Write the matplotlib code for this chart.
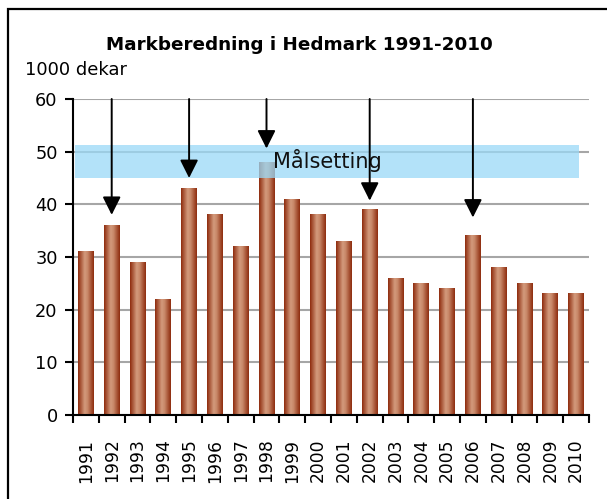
import numpy as np
import matplotlib
matplotlib.use("Agg")
import matplotlib.pyplot as plt
from matplotlib.colors import LinearSegmentedColormap
from matplotlib.patches import Rectangle

years = [str(y) for y in range(1991, 2011)]
values = [31, 36, 29, 22, 43, 38, 32, 48, 41, 38, 33, 39, 26, 25, 24, 34, 28, 25, 23, 23]

arrow_years = ["1992", "1995", "1998", "2002", "2006"]
arrow_ends = [38.0, 45.0, 50.6, 40.7, 37.5]
arrow_start = 60

goal_low = 45
goal_high = 51.3
goal_label = "Målsetting"

fig = plt.figure(figsize=(6.07, 4.99), dpi=100)
ax = fig.add_axes([73 / 607, 84 / 499, 516 / 607, 316 / 499])

# brown cylinder-like gradient for the bars
bar_cmap = LinearSegmentedColormap.from_list(
    "bar", [(0.0, "#8e2c0e"), (0.42, "#d39a7c"), (0.6, "#c9896a"), (1.0, "#8e2c0e")])
grad = np.linspace(0, 1, 64).reshape(1, -1)
w = 0.62
for i, v in enumerate(values):
    ax.imshow(grad, extent=(i - w / 2, i + w / 2, 0, v), aspect="auto",
              cmap=bar_cmap, zorder=2, interpolation="bilinear")

ax.set_xlim(-0.5, len(years) - 0.5)
ax.set_ylim(0, 60)

# target band
ax.axhspan(goal_low, goal_high, xmin=0.004, xmax=0.98, color="#9ad9f7",
           alpha=0.75, lw=0, zorder=3)
ax.text(9.35, 48.3, goal_label, fontsize=15, ha="center", va="center",
        color="#111111", zorder=5)

# arrows
for yr, end in zip(arrow_years, arrow_ends):
    xi = years.index(yr)
    ax.annotate("", xy=(xi, end), xytext=(xi, arrow_start),
                arrowprops=dict(arrowstyle="-|>,head_length=1.0,head_width=0.5",
                                mutation_scale=11, lw=1.4, color="black",
                                shrinkA=0, shrinkB=0),
                zorder=6)

# grid and axes styling
ax.set_yticks(range(0, 61, 10))
ax.yaxis.grid(True, color="#a6a6a6", lw=1.5, zorder=0)
ax.set_axisbelow(True)
for s in ["top", "right"]:
    ax.spines[s].set_visible(False)
ax.spines["left"].set_linewidth(1.5)
ax.spines["bottom"].set_linewidth(1.5)
ax.spines["bottom"].set_zorder(4)

ax.set_xticks(range(len(years)))
ax.set_xticklabels(years, rotation=90, fontsize=12.3)
ax.tick_params(axis="x", length=0, pad=17)
ax.set_xticks(np.arange(-0.5, len(years), 1), minor=True)
ax.tick_params(axis="x", which="minor", length=6, width=1.5, direction="out")
ax.tick_params(axis="y", labelsize=12.8, length=6, width=1.5, direction="out", pad=5)

fig.text(299 / 607, 1 - 45 / 499, "Markberedning i Hedmark 1991-2010",
         fontsize=13.2, fontweight="bold", ha="center", va="center")
fig.text(25 / 607, 1 - 70 / 499, "1000 dekar", fontsize=13, ha="left", va="center")

# outer frame (runs off the right and bottom edges)
fig.patches.append(Rectangle((8 / 607, -0.1), 1.2, 1.1 - 9 / 499, fill=False,
                             edgecolor="black", lw=1.6, transform=fig.transFigure))

fig.savefig("out.png", dpi=100)
